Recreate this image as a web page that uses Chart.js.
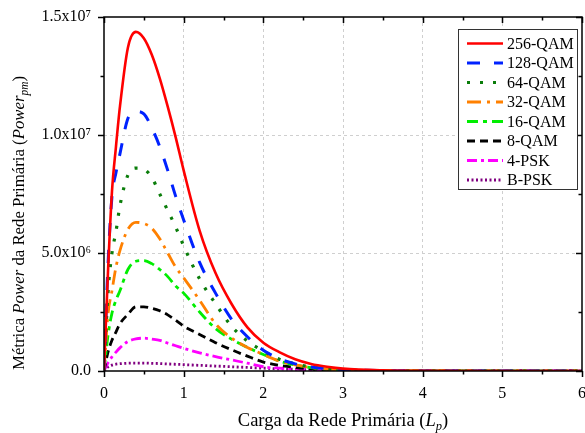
<!DOCTYPE html>
<html>
<head>
<meta charset="utf-8">
<script src="https://cdn.jsdelivr.net/npm/chart.js@4.4.0/dist/chart.umd.min.js"></script>
<style>
  html, body { margin: 0; padding: 0; background: #fff; }
</style>
</head>
<body>
<canvas id="chart" width="585" height="433"></canvas>
<script>
// Carga da rede primaria (Lp)
const loads = [0, 0.05, 0.1, 0.15, 0.2, 0.3, 0.4, 0.5, 0.6, 0.7, 0.8, 0.9, 1.0, 1.2, 1.4, 1.6, 1.8, 2.0, 2.2, 2.4, 2.6, 2.8, 3.0, 3.5, 4.0, 5.0, 6.0];

const qam256 = [0, 4.2e6, 7.6e6, 9.5e6, 1.12e7, 1.37e7, 1.437e7, 1.41e7, 1.34e7, 1.24e7, 1.12e7, 9.9e6, 8.5e6, 5.95e6, 4.15e6, 2.85e6, 1.85e6, 1.2e6, 8e5, 5e5, 3e5, 1.8e5, 1e5, 2.5e4, 5e3, 0, 0];
const qam128 = [0, 4.5e6, 7.4e6, 8.4e6, 9.2e6, 1.07e7, 1.1e7, 1.09e7, 1.03e7, 9.5e6, 8.5e6, 7.4e6, 6.4e6, 4.6e6, 3.3e6, 2.2e6, 1.45e6, 8.8e5, 5.2e5, 3e5, 1.7e5, 1e5, 6e4, 1.5e4, 4e3, 0, 0];
const qam64 = [0, 3.3e6, 5.0e6, 5.9e6, 7.0e6, 8.3e6, 8.6e6, 8.55e6, 8.2e6, 7.5e6, 6.8e6, 6.1e6, 5.3e6, 3.9e6, 2.85e6, 1.9e6, 1.27e6, 8.5e5, 5e5, 3e5, 1.7e5, 9e4, 5e4, 1.2e4, 3e3, 0, 0];
const qam32 = [0, 2.4e6, 3.4e6, 4.4e6, 5.1e6, 6.0e6, 6.3e6, 6.25e6, 6.05e6, 5.6e6, 5.0e6, 4.4e6, 3.95e6, 3.0e6, 2.0e6, 1.4e6, 1.0e6, 7e5, 4.2e5, 2.6e5, 1.5e5, 8e4, 4.5e4, 1e4, 3e3, 0, 0];
const qam16 = [0, 1.5e6, 2.45e6, 3.0e6, 3.4e6, 4.3e6, 4.65e6, 4.68e6, 4.55e6, 4.3e6, 4.0e6, 3.6e6, 3.3e6, 2.5e6, 1.8e6, 1.35e6, 1.0e6, 7e5, 4.2e5, 2.5e5, 1.4e5, 8e4, 4e4, 1e4, 2e3, 0, 0];
const qam8 = [0, 8e5, 1.3e6, 1.65e6, 2.0e6, 2.4e6, 2.72e6, 2.72e6, 2.66e6, 2.55e6, 2.38e6, 2.15e6, 1.9e6, 1.55e6, 1.2e6, 9e5, 6.3e5, 3.8e5, 2.4e5, 1.5e5, 9e4, 5e4, 3e4, 8e3, 2e3, 0, 0];
const psk4 = [0, 3.5e5, 6e5, 8e5, 9.8e5, 1.25e6, 1.36e6, 1.39e6, 1.35e6, 1.3e6, 1.18e6, 1.07e6, 9.6e5, 7.7e5, 6.1e5, 4.7e5, 3.3e5, 1.8e5, 1.2e5, 8e4, 5e4, 3e4, 2e4, 5e3, 1e3, 0, 0];
const bpsk = [0, 1.7e5, 2.5e5, 2.9e5, 3.1e5, 3.3e5, 3.35e5, 3.35e5, 3.25e5, 3.15e5, 3.0e5, 2.85e5, 2.7e5, 2.4e5, 2.1e5, 1.8e5, 1.5e5, 1.2e5, 9e4, 7e4, 5e4, 4e4, 3e4, 1e4, 3e3, 0, 0];

const seriesNames = ['256-QAM', '128-QAM', '64-QAM', '32-QAM', '16-QAM', '8-QAM', '4-PSK', 'B-PSK'];
const xTicks = [0, 1, 2, 3, 4, 5, 6];
const yTicks = [0, 5e6, 1e7, 1.5e7];
const yTickLabels = ['0.0', '5.0x10\u2076', '1.0x10\u2077', '1.5x10\u2077'];

const SERIF = "'Liberation Serif', 'Times New Roman', serif";

const styles = [
    {color: '#ff0000', dash: [], width: 2.6},
    {color: '#0022ff', dash: [13, 14], width: 3},
    {color: '#0a7d0a', dash: [3, 10], width: 3.2},
    {color: '#ff8000', dash: [14, 6, 3, 6], width: 2.8},
    {color: '#00ee00', dash: [11, 5, 4, 5], width: 2.8},
    {color: '#000000', dash: [8, 5], width: 2.8},
    {color: '#ff00ff', dash: [10, 4, 3, 4], width: 2.8},
    {color: '#800080', dash: [2, 2.5], width: 2.8}
];

const allSeries = [qam256, qam128, qam64, qam32, qam16, qam8, psk4, bpsk];

const toPoints = (values) => values.map((v, i) => ({x: loads[i], y: v}));

const datasets = allSeries.map((values, i) => ({
    label: seriesNames[i],
    data: toPoints(values),
    borderColor: styles[i].color,
    backgroundColor: styles[i].color,
    borderDash: styles[i].dash,
    borderWidth: styles[i].width,
    pointRadius: 0,
    fill: false,
    order: i,
    cubicInterpolationMode: 'monotone'
}));

// rich text helper: segments of [text, italic, sub]
const drawRich = (ctx, segs, size) => {
    let total = 0;
    const parts = segs.map(([t, it, sub]) => {
        const s = sub ? size * 0.68 : size;
        ctx.font = (it ? 'italic ' : '') + s + 'px ' + SERIF;
        const w = ctx.measureText(t).width;
        total += w;
        return {t, it, sub, s, w};
    });
    let x = -total / 2;
    for (const p of parts) {
        ctx.font = (p.it ? 'italic ' : '') + p.s + 'px ' + SERIF;
        ctx.fillText(p.t, x, p.sub ? size * 0.22 : 0);
        x += p.w;
    }
};

const framePlugin = {
    id: 'frame',
    afterDraw(chart) {
        const {ctx, chartArea: a, scales} = chart;
        const xs = scales.x, ys = scales.y;
        ctx.save();
        ctx.setLineDash([]);
        ctx.strokeStyle = '#000';
        ctx.lineWidth = 1.5;
        ctx.strokeRect(a.left, a.top, a.right - a.left, a.bottom - a.top);
        ctx.beginPath();
        for (let v = 0; v <= 6.001; v += 0.5) {
            const px = Math.round(xs.getPixelForValue(v)) + 0.5;
            const len = (Math.abs(v - Math.round(v)) < 1e-6) ? 6 : 3.5;
            ctx.moveTo(px, a.bottom); ctx.lineTo(px, a.bottom + len);
            ctx.moveTo(px, a.top); ctx.lineTo(px, a.top + len);
        }
        for (let v = 0; v <= 1.5e7 + 1; v += 2.5e6) {
            const py = Math.round(ys.getPixelForValue(v)) + 0.5;
            const len = (Math.round(v / 2.5e6) % 2 === 0) ? 6 : 3.5;
            ctx.moveTo(a.left, py); ctx.lineTo(a.left - len, py);
            ctx.moveTo(a.right, py); ctx.lineTo(a.right - len, py);
        }
        ctx.stroke();

        // axis titles
        ctx.fillStyle = '#000';
        ctx.textBaseline = 'alphabetic';
        ctx.save();
        ctx.translate((a.left + a.right) / 2, 426);
        drawRich(ctx, [['Carga da Rede Prim\u00e1ria (', false, false], ['L', true, false], ['p', true, true], [')', false, false]], 18.5);
        ctx.restore();
        ctx.save();
        ctx.translate(24, 223);
        ctx.rotate(-Math.PI / 2);
        drawRich(ctx, [['M\u00e9trica ', false, false], ['Power', true, false], [' da Rede Prim\u00e1ria (', false, false], ['Power', true, false], ['pm', true, true], [')', false, false]], 16.8);
        ctx.restore();

        // legend box
        const lx = 458, ly = 29, lw = 119, lh = 160;
        ctx.fillStyle = '#fff';
        ctx.fillRect(lx, ly, lw, lh);
        ctx.strokeStyle = '#333';
        ctx.lineWidth = 1;
        ctx.strokeRect(lx + 0.5, ly + 0.5, lw, lh);
        ctx.font = '16px ' + SERIF;
        ctx.textBaseline = 'middle';
        chart.data.datasets.forEach((ds, i) => {
            const y = 43.5 + i * 19.5;
            ctx.beginPath();
            ctx.setLineDash(ds.borderDash);
            ctx.strokeStyle = ds.borderColor;
            ctx.lineWidth = ds.borderWidth;
            ctx.moveTo(467, y);
            ctx.lineTo(503, y);
            ctx.stroke();
            ctx.setLineDash([]);
            ctx.fillStyle = '#000';
            ctx.fillText(ds.label, 507, y + 1);
        });
        ctx.restore();
    }
};

const gridColor = (c) => (c.tick && (c.tick.value === c.scale.min || c.tick.value === c.scale.max)) ? 'rgba(0,0,0,0)' : '#cfcfcf';

new Chart(document.getElementById('chart'), {
    type: 'line',
    data: {datasets},
    options: {
        responsive: false,
        animation: false,
        devicePixelRatio: 1,
        layout: {padding: {top: 17, right: 3, left: 0, bottom: 0}},
        plugins: {legend: {display: false}, tooltip: {enabled: false}},
        scales: {
            x: {
                type: 'linear', min: 0, max: 6,
                afterBuildTicks: (s) => { s.ticks = xTicks.map(v => ({value: v})); },
                afterFit: (s) => { s.height = 62; s.paddingLeft = 0; s.paddingRight = 0; },
                ticks: {color: '#000', font: {family: SERIF, size: 16}, padding: 13, maxRotation: 0},
                grid: {color: gridColor, lineWidth: 1, drawTicks: false},
                border: {display: false, dash: [3, 3]}
            },
            y: {
                min: 0, max: 1.5e7,
                afterBuildTicks: (s) => { s.ticks = yTicks.map(v => ({value: v})); },
                afterFit: (s) => { s.width = 104; s.paddingTop = 0; s.paddingBottom = 0; },
                ticks: {
                    color: '#000', font: {family: SERIF, size: 16}, padding: 13,
                    callback: (v) => yTickLabels[yTicks.indexOf(v)]
                },
                grid: {color: gridColor, lineWidth: 1, drawTicks: false},
                border: {display: false, dash: [3, 3]}
            }
        }
    },
    plugins: [framePlugin]
});
</script>
</body>
</html>
